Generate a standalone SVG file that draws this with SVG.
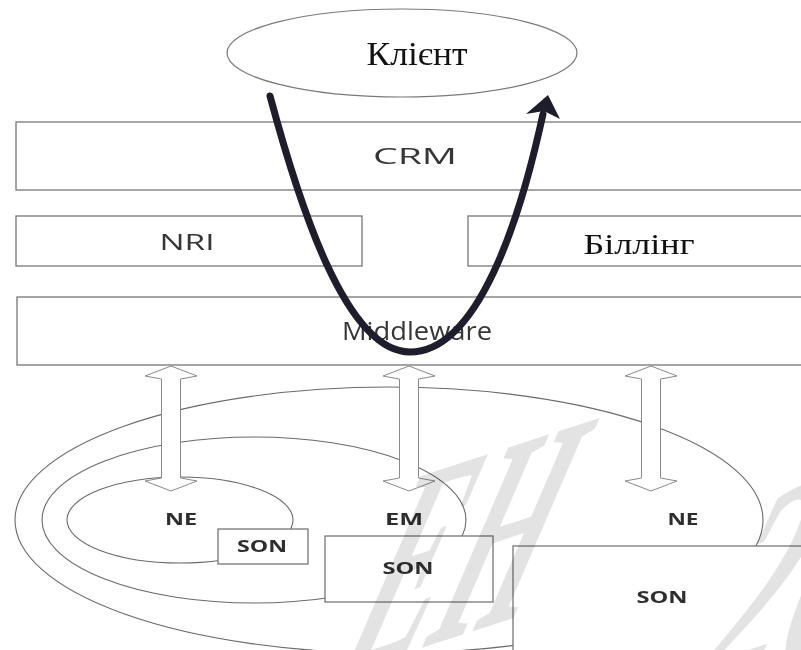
<svg xmlns="http://www.w3.org/2000/svg" width="801" height="650" viewBox="0 0 801 650">
  <style>
    .box { fill: #ffffff; stroke: #767676; stroke-width: 1.3; }
    .ring { fill: none; stroke: #6a6a6a; stroke-width: 1.1; }
    .sans { font-family: "Open Sans", "Noto Sans", "DejaVu Sans", sans-serif; fill: #363636; }
    .serif { font-family: "Liberation Serif", "Times New Roman", serif; fill: #111111; }
    .tag { font-family: "Open Sans", "Noto Sans", "DejaVu Sans", sans-serif; font-weight: 700; font-size: 16px; fill: #2e2e2e; }
    .dbl { fill: #ffffff; stroke: #8a8a8a; stroke-width: 1; stroke-linejoin: miter; }
    .flow { fill: none; stroke: #1d1d2b; stroke-width: 7; stroke-linecap: round; }
    .mark { font-family: "Liberation Serif", "Times New Roman", serif; font-style: italic; font-weight: 700; font-size: 250px; fill: #e3e3e3; mix-blend-mode: multiply; }
  </style>
  <defs>
    <!-- hollow two-headed arrow, centred on x=0 -->
    <path id="updown" d="M0,366 L26,376 L9.5,379 L9.5,478 L26,481 L0,491 L-26,481 L-9.5,478 L-9.5,379 L-26,376 Z"/>
  </defs>

  <rect width="801" height="650" fill="#ffffff"/>

  <!-- network domains -->
  <g id="domain-outer">
    <ellipse class="ring" cx="389" cy="520" rx="374" ry="133"/>
  </g>
  <g id="domain-em">
    <ellipse class="ring" cx="254" cy="520" rx="212" ry="83"/>
    <text class="tag" x="404" y="525" text-anchor="middle" textLength="38" lengthAdjust="spacingAndGlyphs">EM</text>
  </g>
  <g id="domain-ne-left">
    <ellipse class="ring" cx="180" cy="520" rx="113" ry="43"/>
    <text class="tag" x="181" y="525" text-anchor="middle" textLength="32" lengthAdjust="spacingAndGlyphs">NE</text>
  </g>
  <g id="domain-ne-right">
    <text class="tag" x="683" y="525" text-anchor="middle" textLength="31" lengthAdjust="spacingAndGlyphs">NE</text>
  </g>

  <!-- SON blocks -->
  <g id="son-ne">
    <rect class="box" x="218" y="529" width="90" height="35"/>
    <text class="tag" x="262" y="552" text-anchor="middle" textLength="50" lengthAdjust="spacingAndGlyphs">SON</text>
  </g>
  <g id="son-em">
    <rect class="box" x="325" y="536" width="168" height="66"/>
    <text class="tag" x="408" y="574" text-anchor="middle" textLength="51" lengthAdjust="spacingAndGlyphs">SON</text>
  </g>
  <g id="son-core">
    <rect class="box" x="513" y="546" width="300" height="120"/>
    <text class="tag" x="662" y="603" text-anchor="middle" textLength="51" lengthAdjust="spacingAndGlyphs">SON</text>
  </g>

  <!-- OSS/BSS layers -->
  <g id="client">
    <ellipse fill="#ffffff" stroke="#7a7a7a" stroke-width="1.2" cx="402" cy="53" rx="175" ry="44"/>
    <text class="serif" x="417" y="65" font-size="33" text-anchor="middle" textLength="101" lengthAdjust="spacingAndGlyphs">Клієнт</text>
  </g>
  <g id="crm">
    <rect class="box" x="16" y="122" width="800" height="68"/>
    <text class="sans" x="415" y="164" font-size="22" text-anchor="middle" textLength="84" lengthAdjust="spacingAndGlyphs">CRM</text>
  </g>
  <g id="nri">
    <rect class="box" x="16" y="216" width="346" height="50"/>
    <text class="sans" x="187" y="250" font-size="21" text-anchor="middle" textLength="55" lengthAdjust="spacingAndGlyphs">NRI</text>
  </g>
  <g id="billing">
    <rect class="box" x="468" y="216" width="350" height="50"/>
    <text class="serif" x="639" y="254" font-size="30" text-anchor="middle" textLength="111" lengthAdjust="spacingAndGlyphs">Біллінг</text>
  </g>
  <g id="middleware">
    <rect class="box" x="17" y="297" width="800" height="68"/>
    <text class="sans" x="417" y="340" font-size="25" fill="#4a4a4a" text-anchor="middle" textLength="150" lengthAdjust="spacingAndGlyphs">Middleware</text>
  </g>

  <!-- connectors -->
  <g id="connectors">
    <use href="#updown" class="dbl" x="171"/>
    <use href="#updown" class="dbl" x="409"/>
    <use href="#updown" class="dbl" x="651"/>
    <path class="flow" d="M270,96 C298,200 345,352 410,352 C478,352 520,220 543,114"/>
    <polygon fill="#1d1d2b" points="548,95 560,119 544,111 526,114"/>
  </g>

  <!-- watermark -->
  <g id="watermark">
    <text class="mark" transform="translate(335,676) rotate(-18) skewX(-38)" textLength="200" lengthAdjust="spacingAndGlyphs">ЕН</text>
    <text class="mark" transform="translate(688,696) rotate(-18) skewX(-38)" textLength="170" lengthAdjust="spacingAndGlyphs">20</text>
  </g>
</svg>
